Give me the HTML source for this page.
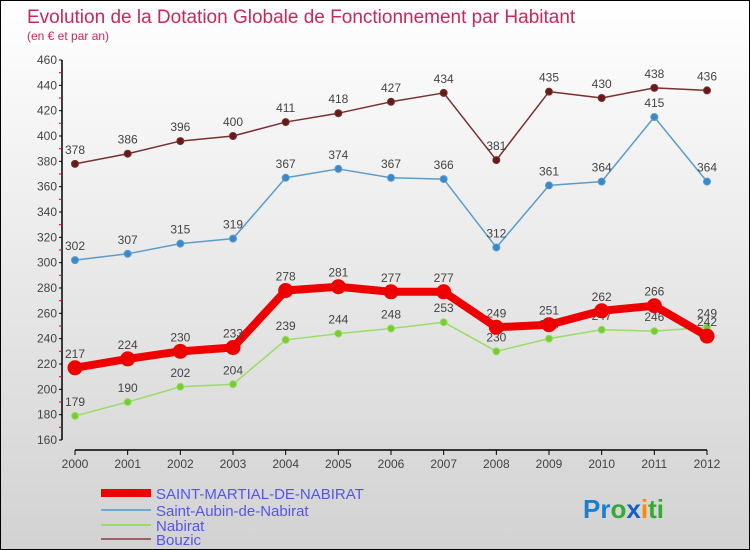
<!DOCTYPE html>
<html><head><meta charset="utf-8"><style>
body{margin:0;width:750px;height:550px;overflow:hidden;font-family:"Liberation Sans",sans-serif}
#wrap{position:relative;width:748px;height:548px;border:1px solid #000;background:linear-gradient(#ffffff,#d2d2d2)}
</style></head><body>
<div id="wrap">
<svg id="svg" width="748" height="548" style="position:absolute;left:0;top:0">
<text x="26" y="22" font-size="19" fill="#c8285a">Evolution de la Dotation Globale de Fonctionnement par Habitant</text>
<text x="26" y="39" font-size="12" fill="#c8285a">(en € et par an)</text>
<g id="axes"></g><g id="series"></g>
<g>
<line x1="100" y1="492" x2="150" y2="492" stroke="#ee0000" stroke-width="8"/>
<text x="155" y="498" font-size="15" fill="#5555ee">SAINT-MARTIAL-DE-NABIRAT</text>
<line x1="100" y1="509" x2="150" y2="509" stroke="#6fa8d0" stroke-width="2"/>
<text x="155" y="515" font-size="15" fill="#5555ee">Saint-Aubin-de-Nabirat</text>
<line x1="100" y1="524" x2="150" y2="524" stroke="#99dd66" stroke-width="2"/>
<text x="155" y="530" font-size="15" fill="#5555ee">Nabirat</text>
<line x1="100" y1="538" x2="150" y2="538" stroke="#a06060" stroke-width="2"/>
<text x="155" y="544" font-size="15" fill="#5555ee">Bouzic</text>
</g>
<text x="582" y="517" font-size="26" font-weight="bold"><tspan fill="#1a7fd0">Pr</tspan><tspan fill="#33aa33">o</tspan><tspan fill="#1a5fc0">x</tspan><tspan fill="#ff8800">i</tspan><tspan fill="#33aa33">ti</tspan></text>
</svg>
</div>
<script>
const years=[2000,2001,2002,2003,2004,2005,2006,2007,2008,2009,2010,2011,2012];
const yTicks=[160,180,200,220,240,260,280,300,320,340,360,380,400,420,440,460];
const bouzic=[378,386,396,400,411,418,427,434,381,435,430,438,436];
const saintAubin=[302,307,315,319,367,374,367,366,312,361,364,415,364];
const nabirat=[179,190,202,204,239,244,248,253,230,240,247,246,249];
const saintMartial=[217,224,230,233,278,281,277,277,249,251,262,266,242];
const NS="http://www.w3.org/2000/svg";
function X(i){return 74+i*(632/(years.length-1));}
function Y(v){return 439-(v-160)*(380/300);}
function mk(t,a,p){const e=document.createElementNS(NS,t);for(const k in a)e.setAttribute(k,a[k]);p.appendChild(e);return e;}
const ax=document.getElementById('axes');
let l=mk('line',{x1:61,y1:Y(460),x2:61,y2:Y(160),stroke:'#000','stroke-width':1.5},ax);


yTicks.forEach((v,i)=>{
 mk('line',{x1:58,y1:Y(v),x2:61,y2:Y(v),stroke:'#000'},ax);
 if(i<yTicks.length-1)mk('line',{x1:58,y1:Y(v+10),x2:61,y2:Y(v+10),stroke:'#e00'},ax);
 const t=mk('text',{x:56,y:Y(v)+4,'text-anchor':'end','font-size':12,fill:'#444'},ax);t.textContent=v;
 
 
});
l=mk('line',{x1:74,y1:449,x2:706,y2:449,stroke:'#000','stroke-width':1.5},ax);


years.forEach((y,i)=>{
 mk('line',{x1:X(i),y1:449,x2:X(i),y2:454,stroke:'#000'},ax);
 const t=mk('text',{x:X(i),y:467,'text-anchor':'middle','font-size':12,fill:'#444'},ax);t.textContent=y;
 
 
});
const sg=document.getElementById('series');
function draw(data,name,color,fill,w,r){
 const g=mk('g',{},sg);
 
 
 const p=mk('polyline',{points:data.map((v,i)=>X(i)+','+Y(v)).join(' '),fill:'none',stroke:color,'stroke-width':w,'stroke-linejoin':'round'},g);
 
 
 data.forEach((v,i)=>{
  const c=mk('circle',{cx:X(i),cy:Y(v),r:r,fill:fill,stroke:color,'stroke-width':1},g);
  
  
  const t=mk('text',{x:X(i),y:Y(v)-10,'text-anchor':'middle','font-size':12,fill:'#444'},g);t.textContent=v;
  
  
 });
}
draw(bouzic,'bouzic','#7a3030','#661a1a',1.5,3.5);
draw(saintAubin,'saint-aubin','#5a9ccc','#3a88c8',1.5,3.5);
draw(nabirat,'nabirat','#99dd66','#77cc33',1.5,3.5);
draw(saintMartial,'saint-martial','#ee0000','#ee0000',8,7);
</script>
</body></html>
